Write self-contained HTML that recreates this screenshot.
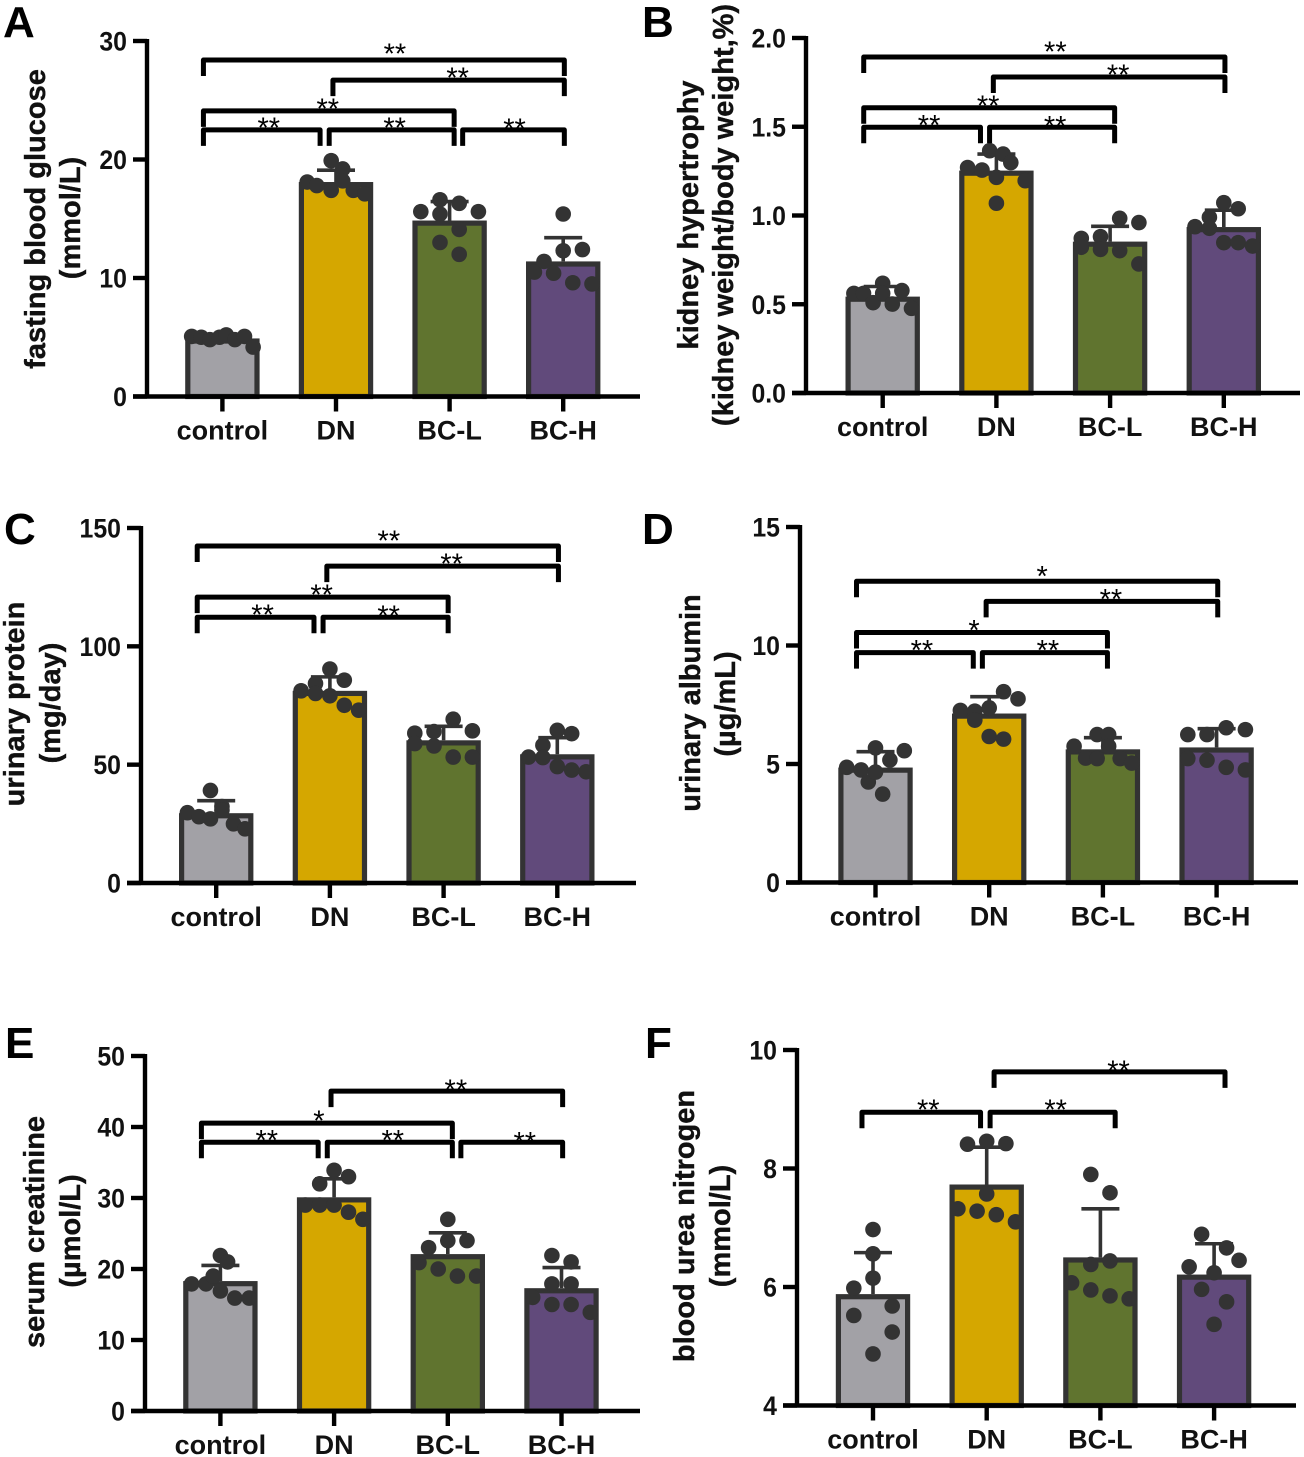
<!DOCTYPE html>
<html lang="en">
<head>
<meta charset="utf-8">
<title>Six panel bar charts</title>
<style>
html,body{margin:0;padding:0;background:#fff;}
svg{display:block;}
text{font-family:"Liberation Sans",sans-serif;}
.title{font-size:29px;font-weight:bold;fill:#111;text-anchor:middle;stroke:#111;stroke-width:.4px;}
.letter{font-size:44px;font-weight:bold;fill:#000;}
</style>
</head>
<body>
<svg id="figure" xmlns="http://www.w3.org/2000/svg" width="1304" height="1457" viewBox="0 0 1304 1457">
<rect width="1304" height="1457" fill="#fff"></rect>
<text class="letter" x="3" y="37">A</text>
<text class="letter" x="642" y="37">B</text>
<text class="letter" x="4" y="544">C</text>
<text class="letter" x="642" y="544">D</text>
<text class="letter" x="5" y="1058">E</text>
<text class="letter" x="645" y="1058">F</text>

<text class="title" transform="translate(45 219) rotate(-90)">fasting blood glucose</text>
<text class="title" transform="translate(80 218) rotate(-90)">(mmol/L)</text>
<text class="title" transform="translate(698 215) rotate(-90)">kidney hypertrophy</text>
<text class="title" transform="translate(733 215) rotate(-90)">(kidney weight/body weight,%)</text>
<text class="title" transform="translate(24 704) rotate(-90)">urinary protein</text>
<text class="title" transform="translate(60 703) rotate(-90)">(mg/day)</text>
<text class="title" transform="translate(700 703) rotate(-90)">urinary albumin</text>
<text class="title" transform="translate(735 704) rotate(-90)">(µg/mL)</text>
<text class="title" transform="translate(44 1232) rotate(-90)">serum creatinine</text>
<text class="title" transform="translate(80 1231) rotate(-90)">(µmol/L)</text>
<text class="title" transform="translate(694 1226) rotate(-90)">blood urea nitrogen</text>
<text class="title" transform="translate(730 1226) rotate(-90)">(mmol/L)</text>
</svg>

<script>
// Shared categories and colours
var categories = ["control", "DN", "BC-L", "BC-H"];
var barColors = ["#a2a1a6", "#d5a700", "#60742f", "#614a7b"];

// Panel A: fasting blood glucose
var aTicks = [0, 10, 20, 30];
var aMeans = [4.9, 18.1, 14.85, 11.4];
var aSd = [0.2, 1.0, 1.6, 2.0];
var aPoints = [
  [5.07, 5.0, 4.8, 5.0, 5.2, 4.8, 5.07, 4.17],
  [18.1, 17.8, 19.9, 17.4, 19.2, 18.2, 17.4, 17.1],
  [15.6, 16.6, 15.4, 16.3, 14.1, 15.6, 13.0, 12.0],
  [10.5, 11.4, 10.4, 15.4, 12.3, 9.6, 12.4, 9.5]
];
var aLanes = [
  [-3.2, -2.2, -1.3, -0.3, 0.4, 1.3, 2.3, 3.2],
  [-3, -2, -0.5, -0.5, 0.7, 0.7, 1.8, 3],
  [-3, -1, -1, 1, 1, 3, -1, 1],
  [-3, -2, -1, 0, 0, 1, 2, 3]
];
var aBrackets = [
  [-0.167, 3.01, 28.4, "**", 11, 11],
  [0.973, 3.01, 26.7, "**", 9, 7],
  [-0.167, 2.04, 24.1, "**", -1, 7],
  [-0.167, 0.86, 22.5, "**", 7, 7],
  [0.94, 2.04, 22.5, "**", 3, 7],
  [2.115, 3.01, 22.5, "**", 1, 6]
];

// Panel B: kidney hypertrophy
var bTicks = [0, 0.5, 1, 1.5, 2];
var bMeans = [0.543, 1.253, 0.853, 0.935];
var bSd = [0.057, 0.093, 0.086, 0.095];
var bPoints = [
  [0.561, 0.561, 0.509, 0.618, 0.561, 0.501, 0.577, 0.477],
  [1.27, 1.256, 1.365, 1.215, 1.069, 1.346, 1.298, 1.196],
  [0.871, 0.821, 0.881, 0.809, 0.984, 0.802, 0.96, 0.727],
  [0.937, 0.99, 0.928, 1.072, 0.847, 1.038, 0.847, 0.828]
];
var bLanes = [
  [-3, -2, -1, 0, 0, 1, 2, 3],
  [-3, -1.5, -0.7, 0, 0, 0.7, 1.5, 3],
  [-3, -3, -1, -1, 1, 1, 3, 3],
  [-3, -1.5, -1.5, 0, 0, 1.5, 1.5, 3]
];
var bBrackets = [
  [-0.167, 3.01, 1.893, "**", 11, 10],
  [0.973, 3.01, 1.78, "**", 9, 7],
  [-0.167, 2.04, 1.607, "**", -1, 7],
  [-0.167, 0.86, 1.497, "**", 7, 7],
  [0.94, 2.04, 1.497, "**", 3, 6]
];

// Panel C: urinary protein
var cTicks = [0, 50, 100, 150];
var cMeans = [29.5, 81.2, 60.3, 54.4];
var cSd = [5.3, 5.9, 5.9, 7];
var cPoints = [
  [29.7, 28, 39.1, 27.1, 32.3, 30.8, 25, 22.9],
  [81.2, 84.3, 80.1, 90.4, 79.1, 85.7, 75.1, 73],
  [63.3, 58.9, 64, 57.9, 69.2, 53.2, 64.3, 53.2],
  [53.2, 58.2, 53, 64.5, 49.2, 63.1, 47.7, 47]
];
var cLanes = [
  [-3, -1.8, -0.6, -0.6, 0.6, 0.6, 1.8, 3],
  [-3, -1.5, -1.5, 0, 0, 1.5, 1.5, 3],
  [-3, -3, -1, -1, 1, 1, 3, 3],
  [-3, -1.5, -1.5, 0, 0, 1.5, 1.5, 3]
];
var cBrackets = [
  [-0.167, 3.01, 142.4, "**", 11, 10],
  [0.973, 3.01, 133.9, "**", 9, 7],
  [-0.167, 2.04, 120.8, "**", -1, 7],
  [-0.167, 0.86, 112.3, "**", 7, 7],
  [0.94, 2.04, 112.3, "**", 3, 6]
];

// Panel D: urinary albumin
var dTicks = [0, 5, 10, 15];
var dMeans = [4.85, 7.13, 5.62, 5.7];
var dSd = [0.67, 0.71, 0.49, 0.79];
var dPoints = [
  [4.86, 4.75, 4.24, 5.68, 4.66, 3.73, 5.17, 5.56],
  [7.26, 7.23, 6.85, 7.37, 6.16, 8.05, 6.05, 7.75],
  [5.75, 5.25, 6.24, 5.23, 6.24, 5.75, 5.23, 5.04],
  [6.24, 5.23, 6.24, 5.16, 6.53, 4.86, 6.45, 4.75]
];
var dLanes = [
  [-3, -1.5, -0.75, 0, 0, 0.75, 1.5, 3],
  [-3, -1.5, -1.5, 0, 0, 1.5, 1.5, 3],
  [-3, -1.8, -0.6, -0.6, 0.6, 0.6, 1.8, 3],
  [-3, -3, -1, -1, 1, 1, 3, 3]
];
var dBrackets = [
  [-0.167, 3.01, 12.71, "*", 5, 10],
  [0.973, 3.01, 11.86, "**", 9, 7],
  [-0.167, 2.04, 10.55, "*", -8, 7],
  [-0.167, 0.86, 9.7, "**", 7, 7],
  [0.94, 2.04, 9.7, "**", 3, 7]
];

// Panel E: serum creatinine
var eTicks = [0, 10, 20, 30, 40, 50];
var eMeans = [18.3, 30.1, 22.1, 17.3];
var eSd = [2.2, 2.6, 3, 2.9];
var ePoints = [
  [17.9, 17.9, 19, 21.9, 16.9, 21, 15.9, 15.9],
  [29, 32, 29, 33.9, 29, 33, 28, 27],
  [20.9, 23, 20, 27, 24, 19, 24, 19],
  [16, 21.9, 17.9, 15, 21, 17.9, 15, 13.9]
];
var eLanes = [
  [-3, -1.5, -0.75, 0, 0, 0.75, 1.5, 3],
  [-3, -1.5, -1.5, 0, 0, 1.5, 1.5, 3],
  [-3, -2, -1, 0, 0, 1, 2, 3],
  [-3, -1, -1, -1, 1, 1, 1, 3]
];
var eBrackets = [
  [0.973, 3.01, 45.06, "**", 9, 6],
  [-0.167, 2.04, 40.54, "*", -8, 7],
  [-0.167, 0.86, 37.85, "**", 7, 7],
  [0.94, 2.04, 37.85, "**", 3, 7],
  [2.115, 3.01, 37.85, "**", 13, 5]
];

// Panel F: blood urea nitrogen
var fTicks = [4, 6, 8, 10];
var fMeans = [5.88, 7.73, 6.5, 6.21];
var fSd = [0.7, 0.63, 0.82, 0.52];
var fPoints = [
  [5.98, 5.52, 6.97, 6.56, 6.15, 4.87, 5.68, 5.24],
  [7.32, 8.41, 7.28, 8.46, 7.57, 7.22, 8.42, 7.1],
  [6.07, 7.9, 6.38, 5.95, 7.59, 6.44, 5.85, 5.8],
  [6.34, 6.89, 5.96, 6.24, 5.37, 6.66, 5.75, 6.45]
];
var fLanes = [
  [-2, -2, 0, 0, 0, 0, 2, 2],
  [-3, -2, -1, 0, 0, 1, 2, 3],
  [-3, -1, -1, -1, 1, 1, 1, 3],
  [-2.6, -1.3, -1.3, 0, 0, 1.3, 1.3, 2.6]
];
var fBrackets = [
  [1.065, 3.096, 9.63, "**", 9, 6],
  [-0.097, 0.946, 8.95, "**", 7, 7],
  [1.03, 2.13, 8.95, "**", 3, 7]
];

var SVG_NS = "http://www.w3.org/2000/svg";
var figure = document.getElementById("figure");

function make(parent, tag, attrs) {
  var el = document.createElementNS(SVG_NS, tag);
  for (var k in attrs) el.setAttribute(k, attrs[k]);
  parent.appendChild(el);
  return el;
}

function drawPanel(id, box, ticks, means, sd, points, lanes, brackets) {
  var domainMin = ticks[0];
  var domainMax = ticks[ticks.length - 1];
  function yScale(v) {
    return box.y0 - (v - domainMin) / (domainMax - domainMin) * (box.y0 - box.yTop);
  }
  function xScale(c) {
    return box.c0 + c * box.step;
  }

  var g = make(figure, "g", {});
  
  

  // bars
  means.forEach(function (mean, i) {
    var top = yScale(mean) + 2.6;
    var bar = make(g, "rect", {
      x: xScale(i) - 34.6, y: top, width: 69.2, height: Math.max(0, box.y0 - top),
      fill: barColors[i], stroke: "#333", "stroke-width": 5.2
    });
    
    
  });

  // error bars
  means.forEach(function (mean, i) {
    var err = make(g, "path", {
      d: "M" + xScale(i) + " " + yScale(mean) + "V" + yScale(mean + sd[i]) +
         "M" + (xScale(i) - 19) + " " + yScale(mean + sd[i]) + "H" + (xScale(i) + 19),
      fill: "none", stroke: "#333", "stroke-width": 3.6
    });
    
    
  });

  // points
  points.forEach(function (group, i) {
    group.forEach(function (v, j) {
      var dot = make(g, "circle", {
        cx: xScale(i) + lanes[i][j] * 9.6, cy: yScale(v), r: 7.8, fill: "#333"
      });
      
      
    });
  });

  // axes
  var yAxis = make(g, "path", {
    d: "M" + box.x + " " + (box.yTop - 2) + "V" + (box.y0 + 2),
    fill: "none", stroke: "#000", "stroke-width": 4.4
  });
  
  
  var xAxis = make(g, "path", {
    d: "M" + (box.x - 14) + " " + box.y0 + "H" + box.xEnd,
    fill: "none", stroke: "#000", "stroke-width": 4.4
  });
  
  

  ticks.forEach(function (t) {
    var y = yScale(t);
    var tick = make(g, "path", {
      d: "M" + (box.x - 14) + " " + y + "H" + box.x,
      fill: "none", stroke: "#000", "stroke-width": 4.4
    });
    
    
    var label = make(g, "text", {
      transform: "translate(" + (box.x - 20) + " " + (y + 9.5) + ") scale(0.92 1)",
      "text-anchor": "end",
      "font-size": 27, "font-weight": "bold", fill: "#111"
    });
    label.textContent = id === "b" ? t.toFixed(1) : String(t);
    
    
  });

  categories.forEach(function (name, i) {
    var tick = make(g, "path", {
      d: "M" + xScale(i) + " " + box.y0 + "V" + (box.y0 + 15),
      fill: "none", stroke: "#000", "stroke-width": 4.4
    });
    
    
    var label = make(g, "text", {
      x: xScale(i), y: box.y0 + 43, "text-anchor": "middle",
      "font-size": 27, "font-weight": "bold", fill: "#111"
    });
    label.textContent = name;
    
    
  });

  // significance brackets
  brackets.forEach(function (b) {
    var x1 = xScale(b[0]);
    var x2 = xScale(b[1]);
    var y = yScale(b[2]);
    var bracket = make(g, "path", {
      d: "M" + x1 + " " + (y + 16) + "V" + y + "H" + x2 + "V" + (y + 16),
      fill: "none", stroke: "#000", "stroke-width": 5, "stroke-linejoin": "round"
    });
    
    
    var star = make(g, "text", {
      x: (x1 + x2) / 2 + b[4], y: y - b[5] + 14.5, "text-anchor": "middle",
      "font-size": 29, fill: "#000"
    });
    star.textContent = b[3];
    
    
  });
}

drawPanel("a", {x: 147, y0: 396.5, yTop: 41, xEnd: 640, c0: 222.4, step: 113.6}, aTicks, aMeans, aSd, aPoints, aLanes, aBrackets);
drawPanel("b", {x: 806, y0: 393, yTop: 38, xEnd: 1300, c0: 882.7, step: 113.7}, bTicks, bMeans, bSd, bPoints, bLanes, bBrackets);
drawPanel("c", {x: 141, y0: 883, yTop: 528, xEnd: 636, c0: 216.2, step: 113.7}, cTicks, cMeans, cSd, cPoints, cLanes, cBrackets);
drawPanel("d", {x: 800, y0: 882.5, yTop: 527, xEnd: 1298, c0: 875.5, step: 113.7}, dTicks, dMeans, dSd, dPoints, dLanes, dBrackets);
drawPanel("e", {x: 145, y0: 1411, yTop: 1056, xEnd: 640, c0: 220.4, step: 113.7}, eTicks, eMeans, eSd, ePoints, eLanes, eBrackets);
drawPanel("f", {x: 797, y0: 1405.5, yTop: 1050, xEnd: 1296, c0: 873, step: 113.7}, fTicks, fMeans, fSd, fPoints, fLanes, fBrackets);
</script>
</body>
</html>
